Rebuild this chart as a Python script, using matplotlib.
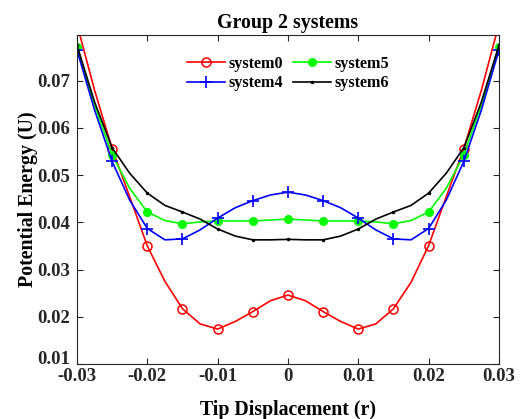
import numpy as np
import matplotlib
matplotlib.use("Agg")
import matplotlib.pyplot as plt

# ==========================================
# Data (step 0.0025)
# ==========================================
tip_r = [-0.03, -0.0275, -0.025, -0.0225, -0.02, -0.0175, -0.015, -0.0125,
         -0.01, -0.0075, -0.005, -0.0025, 0.0, 0.0025, 0.005, 0.0075,
         0.01, 0.0125, 0.015, 0.0175, 0.02, 0.0225, 0.025, 0.0275, 0.03]

system0 = [0.0820, 0.0680, 0.0556, 0.0454, 0.0350, 0.0275, 0.0217, 0.0185,
           0.0174, 0.0190, 0.0211, 0.0234, 0.0246, 0.0234, 0.0211, 0.0190,
           0.0174, 0.0185, 0.0217, 0.0273, 0.0351, 0.0454, 0.0556, 0.0680, 0.0820]
system5 = [0.0772, 0.0648, 0.0543, 0.0472, 0.0422, 0.0404, 0.0397, 0.0401,
           0.0403, 0.0403, 0.0403, 0.0405, 0.0407, 0.0405, 0.0403, 0.0403,
           0.0403, 0.0401, 0.0397, 0.0404, 0.0422, 0.0472, 0.0543, 0.0648, 0.0772]
system4 = [0.0765, 0.0638, 0.0529, 0.0447, 0.0387, 0.0363, 0.0365, 0.0384,
           0.0409, 0.0431, 0.0446, 0.0458, 0.0464, 0.0458, 0.0446, 0.0431,
           0.0409, 0.0384, 0.0365, 0.0363, 0.0387, 0.0447, 0.0529, 0.0638, 0.0765]
system6 = [0.0775, 0.0655, 0.0558, 0.0504, 0.0462, 0.0436, 0.0422, 0.0407,
           0.0386, 0.0371, 0.0363, 0.0363, 0.0364, 0.0363, 0.0363, 0.0371,
           0.0386, 0.0407, 0.0422, 0.0436, 0.0462, 0.0504, 0.0558, 0.0655, 0.0775]

x_ticks = [-0.03, -0.02, -0.01, 0, 0.01, 0.02, 0.03]
x_ticklabels = ["-0.03", "-0.02", "-0.01", "0", "0.01", "0.02", "0.03"]
y_ticks = [0.01, 0.02, 0.03, 0.04, 0.05, 0.06, 0.07]
y_ticklabels = ["0.01", "0.02", "0.03", "0.04", "0.05", "0.06", "0.07"]

plt.rcParams['font.family'] = ['Liberation Serif', 'DejaVu Serif']
plt.rcParams['font.weight'] = 'bold'

fig = plt.figure(figsize=(5.28, 4.19), dpi=100)
ax = fig.add_axes([0.1458, 0.1313, 0.7992, 0.7852])

lw = 1.2
l0, = ax.plot(tip_r, system0, color='#ff0000', lw=lw, marker='o', ms=6.5,
              mfc='none', mew=1.1, markevery=2, label='system0')
l5, = ax.plot(tip_r, system5, color='#00ff00', lw=lw, marker='o', ms=5.5,
              mfc='#00ff00', mew=1.0, markevery=2, label='system5')
l4, = ax.plot(tip_r, system4, color='#0000ff', lw=lw, marker='+', ms=8,
              mew=1.2, markevery=2, label='system4')
l6, = ax.plot(tip_r, system6, color='#000000', lw=lw, marker='.', ms=3,
              markevery=2, label='system6')

ax.set_xlim(-0.03, 0.03)
ax.set_ylim(0.01, 0.0797)
ax.set_xticks(x_ticks)
ax.set_xticklabels(x_ticklabels)
ax.set_yticks(y_ticks)
ax.set_yticklabels(y_ticklabels)
ax.tick_params(direction='in', length=4, width=0.8, labelsize=13.5,
               top=True, right=True, colors='#262626')
ax.tick_params(axis='x', pad=3)
ax.tick_params(axis='y', pad=5)
for lab in ax.get_xticklabels() + ax.get_yticklabels():
    lab.set_fontweight('bold')
# lowest y label sits on its tick, as in the original
ax.get_yticklabels()[0].set_verticalalignment('baseline')
for sp in ax.spines.values():
    sp.set_color('#262626')
    sp.set_linewidth(0.8)

ax.set_title("Group 2 systems", fontsize=14.3, fontweight='bold', pad=5)
ax.set_xlabel("Tip Displacement (r)", fontsize=14.3, fontweight='bold', labelpad=11)
ax.set_ylabel("Potential Energy (U)", fontsize=14.3, fontweight='bold', labelpad=-1)

ax.legend(handles=[l0, l4, l5, l6], ncol=2, loc='upper center',
          bbox_to_anchor=(0.5, 1.0), frameon=False,
          handlelength=2.4, handletextpad=0.2, columnspacing=0.6,
          labelspacing=0.2, borderaxespad=0.9, prop={'weight': 'bold', 'size': 11.6})

fig.savefig("out.png", dpi=100)
